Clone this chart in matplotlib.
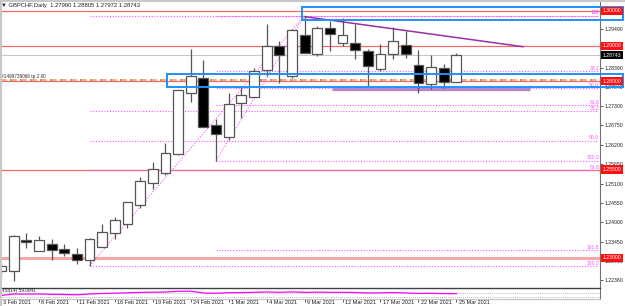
import numpy as np
import matplotlib.pyplot as plt
from matplotlib.transforms import blended_transform_factory
from matplotlib.patches import Rectangle

plt.rcParams['font.family'] = ['Liberation Sans', 'DejaVu Sans']

dates = ["3 Feb 2021", "4 Feb 2021", "5 Feb 2021", "8 Feb 2021", "9 Feb 2021",
         "10 Feb 2021", "11 Feb 2021", "12 Feb 2021", "15 Feb 2021", "16 Feb 2021",
         "17 Feb 2021", "18 Feb 2021", "19 Feb 2021", "22 Feb 2021", "23 Feb 2021",
         "24 Feb 2021", "25 Feb 2021", "26 Feb 2021", "1 Mar 2021", "2 Mar 2021",
         "3 Mar 2021", "4 Mar 2021", "5 Mar 2021", "8 Mar 2021", "9 Mar 2021",
         "10 Mar 2021", "11 Mar 2021", "12 Mar 2021", "15 Mar 2021", "16 Mar 2021",
         "17 Mar 2021", "18 Mar 2021", "19 Mar 2021", "22 Mar 2021", "23 Mar 2021",
         "24 Mar 2021", "25 Mar 2021"]
opens = [1.2263, 1.2263, 1.2351, 1.2320, 1.2340, 1.2326, 1.2311, 1.2294, 1.2331, 1.2371,
         1.2396, 1.2450, 1.2513, 1.2541, 1.2595, 1.2768, 1.2810, 1.2677, 1.2643, 1.2739,
         1.2756, 1.2833, 1.2901, 1.2816, 1.2932, 1.2878, 1.2952, 1.2909, 1.2909, 1.2887,
         1.2836, 1.2878, 1.2904, 1.2847, 1.2793, 1.2839, 1.27990]
highs = [1.2286, 1.2364, 1.2371, 1.2362, 1.2354, 1.2340, 1.2328, 1.2357, 1.2396, 1.2416,
         1.2459, 1.2530, 1.2572, 1.2626, 1.2776, 1.2892, 1.2861, 1.2694, 1.2768, 1.2788,
         1.2839, 1.2963, 1.2915, 1.2949, 1.2986, 1.2958, 1.2972, 1.2980, 1.2963, 1.2892,
         1.2907, 1.2955, 1.2943, 1.2890, 1.2875, 1.2850, 1.28805]
lows = [1.2249, 1.2235, 1.2328, 1.2320, 1.2294, 1.2306, 1.2283, 1.2277, 1.2331, 1.2354,
        1.2385, 1.2442, 1.2496, 1.2535, 1.2592, 1.2742, 1.2671, 1.2575, 1.2635, 1.2697,
        1.2756, 1.2816, 1.2796, 1.2810, 1.2881, 1.2873, 1.2887, 1.2901, 1.2864, 1.2788,
        1.2830, 1.2864, 1.2867, 1.2768, 1.2779, 1.2782, 1.27972]
closes = [1.2278, 1.2362, 1.2345, 1.2351, 1.2323, 1.2314, 1.2294, 1.2354, 1.2374, 1.2408,
          1.2459, 1.2518, 1.2552, 1.2598, 1.2776, 1.2816, 1.2671, 1.2652, 1.2737, 1.2762,
          1.2830, 1.2901, 1.2875, 1.2946, 1.2881, 1.2952, 1.2935, 1.2932, 1.2890, 1.2844,
          1.2878, 1.2915, 1.2878, 1.2796, 1.2841, 1.2799, 1.28743]
rsi = [40, 55, 54, 55, 52, 50, 47, 55, 60, 63, 67, 71, 73, 75, 82, 83, 65, 62, 68, 69,
       72, 75, 72, 76, 71, 74, 72, 72, 70, 65, 67, 69, 66, 60, 62, 59, 59.0041]

red_levels = [1.30000, 1.29000, 1.28000, 1.25500, 1.23000]
price_ticks = [1.22360, 1.22910, 1.23450, 1.24000, 1.24550, 1.25100, 1.25650, 1.26200,
               1.26750, 1.27300, 1.27840, 1.28390, 1.29490]
fib_pct = [0.0, 38.2, 50.0, 61.8, 100.0, 161.8]

W, H = 625, 306
fig = plt.figure(figsize=(W / 100, H / 100), dpi=100)
fig.patch.set_facecolor('white')

def frac(x0, y0, x1, y1):
    return [x0 / W, 1 - y1 / H, (x1 - x0) / W, (y1 - y0) / H]

px_bar = 12.65
xlo = -1 / px_bar
xhi = 599 / px_bar
ax = fig.add_axes(frac(0, 1, 600, 287))
ax.set_xlim(xlo, xhi)
ax.set_ylim(1.22171, 1.30275)
for s in ax.spines.values():
    s.set_visible(False)
ax.spines['right'].set_visible(True)
ax.spines['right'].set_color('#707070')
ax.spines['right'].set_linewidth(0.8)
ax.set_xticks([])
ax.yaxis.tick_right()
ax.set_yticks(price_ticks)
ax.set_yticklabels([f"{p:.5f}" for p in price_ticks])
ax.tick_params(axis='y', length=2, width=0.6, color='#404040', pad=1,
               labelsize=3.7, labelcolor='#202020')

x = np.arange(len(dates))
o = np.array(opens); c = np.array(closes)
hi = np.array(highs); lo = np.array(lows)

# horizontal levels
for lv in red_levels:
    if lv == 1.23:
        ax.axhline(lv, color='#f6a8a8', lw=2.2, zorder=1)
    else:
        ax.axhline(lv, color='#f06868', lw=0.9, zorder=1)
ax.axhline(closes[-1], color='#c8c8c8', lw=0.8, zorder=1)

# trade line (orange / green dash-dot)
tl = 1.28050
ax.axhline(tl, color='#f0a070', lw=1.2, dashes=(4, 2), zorder=2)
ax.axhline(tl, color='#70b070', lw=1.2, dashes=(1, 5), dash_capstyle='butt', zorder=2)
ax.text(0.3 / px_bar, tl + 0.0002, "#1499739066 tp 2.00", fontsize=3.4,
        color='#303030', va='bottom', ha='left')

# fibonacci retracements
hi_idx = 24
for lo_idx, pcts in [(17, fib_pct), (7, fib_pct[:5])]:
    top, bot = highs[hi_idx], lows[lo_idx]
    ax.plot([lo_idx, hi_idx], [bot, top], color='#ff55ff', lw=0.8, ls=(0, (1, 1.5)), zorder=2)
    for p in pcts:
        lvl = top - p / 100 * (top - bot)
        ax.plot([lo_idx, 597 / px_bar], [lvl, lvl], color='#ff55ff', lw=0.8,
                ls=(0, (1, 1.5)), zorder=2)
        ax.text(598 / px_bar, lvl + 0.0001, f"{p:.1f}", fontsize=3.6, color='#ff55ff',
                ha='right', va='bottom', zorder=3)

# purple trendline and support
ax.plot([24.03, 41.26], [1.29830, 1.28980], color='#9a2fa6', lw=1.1, zorder=3)
ax.plot([26.17, 41.8], [1.27776, 1.27776], color='#b884cc', lw=2.4, zorder=3,
        solid_capstyle='butt')

# candles
up = c >= o
ax.vlines(x, lo, hi, color='#555555', lw=0.9, zorder=4)
body_lo = np.minimum(o, c)
body_h = np.maximum(np.abs(c - o), 0.00005)
ax.bar(x[up], body_h[up], bottom=body_lo[up], width=0.78, color='white',
       edgecolor='#555555', linewidth=0.9, zorder=5)
ax.bar(x[~up], body_h[~up], bottom=body_lo[~up], width=0.78, color='black',
       edgecolor='#555555', linewidth=0.9, zorder=5)

# blue rectangles
for bx0, p0, p1 in [(23.8, 1.29745, 1.30113), (13.1, 1.27846, 1.28215)]:
    ax.add_patch(Rectangle((bx0, p0), 49.17 - bx0, p1 - p0, fill=False,
                           edgecolor='#1e90ff', lw=1.4, clip_on=False, zorder=7))

# price boxes on the axis
tr = blended_transform_factory(ax.transAxes, ax.transData)
for lv in red_levels:
    ax.text(1.005, lv, f"{lv:.5f}", transform=tr, fontsize=3.7, color='white',
            va='center', ha='left', zorder=8, clip_on=False,
            bbox=dict(boxstyle='square,pad=0.3', fc='#ff1010', ec='none'))
ax.text(1.005, closes[-1], f"{closes[-1]:.5f}", transform=tr, fontsize=3.7,
        color='white', va='center', ha='left', zorder=8, clip_on=False,
        bbox=dict(boxstyle='square,pad=0.3', fc='black', ec='none'))

ax.text(3 / px_bar - 0.2, 1.30275 - 0.0012,
        f"\u25bc GBPCHF,Daily  {opens[-1]:.5f} {highs[-1]:.5f} {lows[-1]:.5f} {closes[-1]:.5f}",
        fontsize=4.2, color='#202020', va='center', ha='left')

# RSI window
rax = fig.add_axes(frac(0, 288, 600, 299))
rax.set_xlim(xlo, xhi)
rax.set_ylim(5, 115)
for s in rax.spines.values():
    s.set_visible(False)
rax.spines['top'].set_visible(True)
rax.spines['top'].set_color('#404040')
rax.spines['top'].set_linewidth(1.0)
rax.spines['right'].set_visible(True)
rax.spines['right'].set_color('#707070')
rax.spines['bottom'].set_visible(True)
rax.spines['bottom'].set_color('#c0c0c0')
rax.set_yticks([])
for lv in (70, 30):
    rax.axhline(lv, color='#a0a0a0', lw=0.6, ls=(0, (1, 1.5)))
rax.plot(x, rsi, color='#ff00ff', lw=0.9)
rax.text(0.3 / px_bar, 112, f"RSI(14) {rsi[-1]:.4f}", fontsize=3.4, color='#202020',
         va='top', ha='left')
rax.set_xticks(x[::3])
rax.set_xticklabels([])
rax.tick_params(axis='x', length=2, width=0.6, color='#404040')
trx = blended_transform_factory(rax.transData, rax.transAxes)
for i in x[::3]:
    rax.text(i + 2.5 / px_bar, -0.12, dates[i], transform=trx, fontsize=4.0,
             color='#202020', va='top', ha='left', clip_on=False)

# window borders
fig.add_artist(plt.Line2D([0.8 / W, 0.8 / W], [0, 1], color='#c8c8c8', lw=1.5))
fig.add_artist(plt.Line2D([0, 1], [1 - 0.8 / H, 1 - 0.8 / H], color='#c8c8c8', lw=1.5))

fig.savefig('out.png', dpi=100)
